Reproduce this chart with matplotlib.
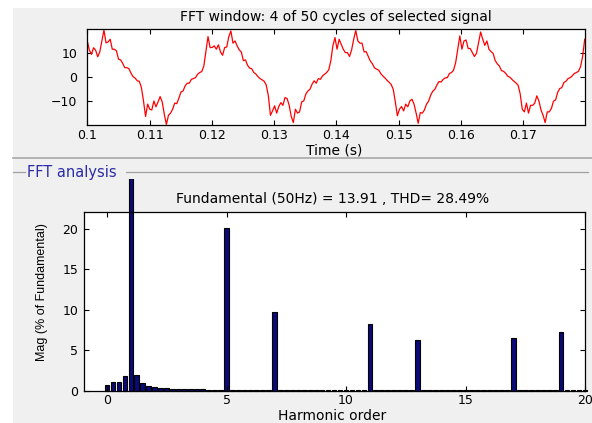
import numpy as np
import matplotlib
matplotlib.use("Agg")
import matplotlib.pyplot as plt
from matplotlib.patches import Rectangle
from matplotlib.lines import Line2D

# ---------------- data ----------------
# Signal samples, 60 per cycle (4 cycles of 50 Hz)
cycle1 = [14.8, 11.0, 9.3, 12.0, 11.0, 8.3, 10.3, 14.8, 19.3, 14.0,
          14.4, 15.5, 11.4, 11.4, 10.7, 7.3, 7.0, 5.6, 3.8, 3.8,
          3.4, 1.5, 0.1, -0.5, -1.6, -1.8, -4.4, -9.9, -16.3, -11.2,
          -13.3, -13.6, -9.9, -12.3, -10.3, -8.1, -10.3, -15.4, -19.6, -15.8,
          -14.9, -13.3, -10.8, -11.0, -8.8, -6.2, -5.8, -3.7, -2.6, -2.6,
          -1.0, -0.7, -0.3, 1.1, 1.8, 2.2, 4.5, 10.7, 16.6, 12.1]
cycle2 = [12.1, 12.8, 11.4, 13.2, 10.3, 8.9, 12.1, 12.3, 16.6, 18.9,
          13.9, 14.8, 12.8, 11.1, 10.3, 6.7, 7.0, 4.8, 3.6, 3.4,
          1.8, 1.2, 0.1, -0.7, -1.2, -1.8, -3.4, -7.8, -15.8, -14.0,
          -11.9, -14.9, -12.2, -10.6, -11.7, -8.5, -8.9, -11.7, -16.3, -18.8,
          -13.3, -14.9, -14.4, -10.3, -9.9, -7.1, -5.8, -5.1, -3.0, -1.6,
          -2.6, -0.7, -1.0, 0.4, 1.1, 1.8, 2.9, 6.6, 12.8, 16.2]
cycle3 = [11.4, 15.5, 13.4, 11.4, 10.0, 10.0, 8.4, 11.1, 15.5, 19.1,
          14.8, 13.9, 13.9, 10.3, 10.4, 8.4, 6.5, 5.4, 3.7, 3.2,
          2.8, 1.4, 0.4, -0.4, -1.4, -2.2, -3.1, -5.1, -10.3, -16.0,
          -13.3, -12.2, -14.0, -11.2, -12.3, -9.9, -9.2, -11.2, -14.9, -19.1,
          -14.7, -14.9, -13.6, -11.2, -10.0, -7.5, -5.9, -5.1, -3.3, -1.9,
          -2.1, -1.0, -0.4, -0.3, 1.4, 1.8, 2.8, 5.9, 11.4, 16.9]
cycle4 = [11.4, 14.8, 15.2, 11.7, 11.7, 10.0, 8.4, 9.7, 14.1, 18.5,
          15.5, 13.0, 14.8, 11.4, 10.4, 9.7, 6.7, 5.4, 4.5, 2.6,
          2.3, 1.5, 0.3, -0.1, -1.0, -1.8, -2.5, -3.4, -7.0, -13.3,
          -14.4, -10.8, -14.9, -11.7, -11.7, -10.8, -7.8, -9.9, -13.6, -15.8,
          -18.8, -14.4, -14.4, -13.0, -10.0, -9.5, -6.4, -4.8, -4.4, -2.3,
          -1.8, -0.7, -0.3, 0.4, 1.4, 1.8, 2.3, 4.2, 8.4, 15.5]
signal = cycle1 + cycle2 + cycle3 + cycle4
t_start, t_end = 0.1, 0.1799

# Harmonic spectrum (% of fundamental), orders 0..20 step 0.25
orders = np.arange(0, 20.001, 0.25)
mags = ([0.75, 1.05, 1.05, 1.85, 100.0, 1.95, 0.9, 0.55, 0.42, 0.33,
         0.33, 0.2, 0.22, 0.22, 0.22, 0.22, 0.2, 0.12, 0.1, 0.1]
        + [20.1] + [0.1] * 7
        + [9.7] + [0.08] * 15
        + [8.3] + [0.08] * 7
        + [6.25] + [0.08] * 15
        + [6.55] + [0.08] * 7
        + [7.3] + [0.08] * 4)

top_title = "FFT window: 4 of 50 cycles of selected signal"
bottom_title = "Fundamental (50Hz) = 13.91 , THD= 28.49%"
time_ticks = [0.1, 0.11, 0.12, 0.13, 0.14, 0.15, 0.16, 0.17]
sig_ticks = [-10, 0, 10]
harm_ticks = [0, 5, 10, 15, 20]
mag_ticks = [0, 5, 10, 15, 20]

# ---------------- figure ----------------
W, H = 592, 423
plt.rcParams['font.family'] = ['DejaVu Sans']
fig = plt.figure(figsize=(W / 100, H / 100), dpi=100, facecolor='white')

def fx(px):
    return px / W

def fy(py):
    return 1 - py / H

gray = '#F0F0F0'
fig.patches.append(Rectangle((fx(13), 0), 1 - fx(13), fy(8), transform=fig.transFigure,
                             facecolor=gray, edgecolor='none', zorder=-2))
fig.lines.append(Line2D([fx(13), 1], [fy(157.5), fy(157.5)], transform=fig.transFigure,
                        color='#A8A8A8', lw=1.2, zorder=-1))
fig.lines.append(Line2D([fx(13), fx(25)], [fy(172), fy(172)], transform=fig.transFigure,
                        color='#A0A0A0', lw=0.9, zorder=-1))
fig.lines.append(Line2D([fx(126), fx(588)], [fy(172), fy(172)], transform=fig.transFigure,
                        color='#A0A0A0', lw=0.9, zorder=-1))
fig.text(fx(27), fy(172), "FFT analysis", color='#2B2BA8', fontsize=10.5,
         va='center', ha='left', zorder=-1)

fs = 9      # tick labels
fl = 10     # titles and axis labels

# ---- top axes ----
ax1 = fig.add_axes([fx(87.3), fy(125), fx(584.7) - fx(87.3), fy(29.3) - fy(125)])
t = np.linspace(t_start, t_end, len(signal))
ax1.plot(t, signal, color='red', lw=0.9)
ax1.set_xlim(t_start, t_end)
ax1.set_ylim(-19.8, 19.6)
ax1.set_xticks(time_ticks)
ax1.set_xticklabels([f"{v:g}" for v in time_ticks])
ax1.set_yticks(sig_ticks)
ax1.text(0.5, 1 + (29.3 - 17) / 95.7, top_title, transform=ax1.transAxes,
         ha='center', va='center', fontsize=fl)
ax1.text((334 - 87.3) / 497.4, -(150 - 125) / 95.7, "Time (s)", transform=ax1.transAxes,
         ha='center', va='center', fontsize=fl)

# ---- bottom axes ----
ax2 = fig.add_axes([fx(84.3), fy(390.7), fx(585) - fx(84.3), fy(212.3) - fy(390.7)])
bars = ax2.bar(orders, mags, width=0.2, color='#0A0A78', edgecolor='black', lw=0.8)
clip_rect = Rectangle((0, 0), 1, fy(179), transform=fig.transFigure,
                      facecolor='none', edgecolor='none')
for b in bars:
    b.set_clip_on(True)
    b.set_clip_path(clip_rect)
ax2.set_xlim(-0.95, 20.0)
ax2.set_ylim(0, 22.07)
ax2.set_xticks(harm_ticks)
ax2.set_yticks(mag_ticks)
ax2.text((332.5 - 84.3) / 500.7, 1 + (212.3 - 199) / 178.4, bottom_title,
         transform=ax2.transAxes, ha='center', va='center', fontsize=fl)
ax2.text((332.5 - 84.3) / 500.7, -(416 - 390.7) / 178.4, "Harmonic order",
         transform=ax2.transAxes, ha='center', va='center', fontsize=fl)
ax2.text((41.7 - 84.3) / 500.7, (390.7 - 292) / 178.4, "Mag (% of Fundamental)",
         transform=ax2.transAxes, ha='center', va='center', rotation=90, fontsize=9,
         family=['Liberation Sans Narrow', 'Liberation Sans', 'DejaVu Sans'])

for ax, pad in ((ax1, 2.7), (ax2, 2.2)):
    ax.set_facecolor('white')
    ax.tick_params(direction='in', length=3.5, width=0.8, top=True, right=True,
                   labelsize=fs, pad=pad, colors='black')
    for s in ax.spines.values():
        s.set_linewidth(0.9)
        s.set_color('black')
ax1.tick_params(axis='y', pad=7)
ax2.tick_params(axis='y', pad=4.3)

fig.savefig("out.png", dpi=100, facecolor='white')
